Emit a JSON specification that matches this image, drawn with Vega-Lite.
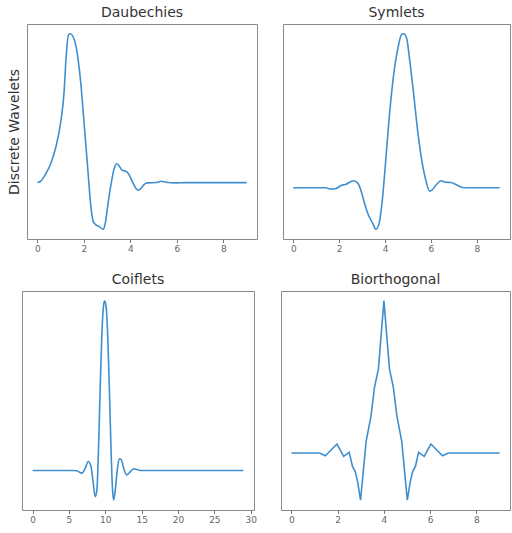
{
  "$schema": "https://vega.github.io/schema/vega-lite/v6.json",
  "padding": {"left": 7, "top": 5, "right": 0, "bottom": 0},
  "background": "white",
  "datasets": {
    "daub": [
      {"x": 0, "y": 0}, {"x": 0.14, "y": 0.013}, {"x": 0.36, "y": 0.084}, {"x": 0.57, "y": 0.178},
      {"x": 0.79, "y": 0.334}, {"x": 1.01, "y": 0.584}, {"x": 1.15, "y": 0.866}, {"x": 1.22, "y": 1.141},
      {"x": 1.34, "y": 1.397}, {"x": 1.41, "y": 1.406}, {"x": 1.58, "y": 1.353}, {"x": 1.72, "y": 1.209},
      {"x": 1.87, "y": 0.928}, {"x": 2.01, "y": 0.553}, {"x": 2.16, "y": 0.147}, {"x": 2.30, "y": -0.228},
      {"x": 2.40, "y": -0.369}, {"x": 2.52, "y": -0.4}, {"x": 2.66, "y": -0.416}, {"x": 2.83, "y": -0.441},
      {"x": 2.92, "y": -0.384}, {"x": 3.02, "y": -0.228}, {"x": 3.16, "y": -0.025}, {"x": 3.30, "y": 0.131},
      {"x": 3.41, "y": 0.178}, {"x": 3.52, "y": 0.156}, {"x": 3.64, "y": 0.116}, {"x": 3.78, "y": 0.109},
      {"x": 3.92, "y": 0.084}, {"x": 4.09, "y": 0.006}, {"x": 4.24, "y": -0.056}, {"x": 4.35, "y": -0.072},
      {"x": 4.45, "y": -0.056}, {"x": 4.60, "y": -0.016}, {"x": 4.74, "y": -0.003}, {"x": 5.10, "y": 0},
      {"x": 5.34, "y": 0.013}, {"x": 5.53, "y": 0.003}, {"x": 5.96, "y": -0.003}, {"x": 6.39, "y": 0},
      {"x": 9, "y": 0}
    ],
    "sym": [
      {"x": 0, "y": 0}, {"x": 1.41, "y": 0}, {"x": 1.65, "y": -0.0125}, {"x": 1.84, "y": -0.009},
      {"x": 2.09, "y": 0.022}, {"x": 2.27, "y": 0.031}, {"x": 2.63, "y": 0.066}, {"x": 2.81, "y": 0.044},
      {"x": 2.95, "y": -0.025}, {"x": 3.11, "y": -0.15}, {"x": 3.28, "y": -0.259}, {"x": 3.47, "y": -0.338},
      {"x": 3.60, "y": -0.391}, {"x": 3.74, "y": -0.338}, {"x": 3.88, "y": -0.119}, {"x": 4.03, "y": 0.256},
      {"x": 4.17, "y": 0.631}, {"x": 4.36, "y": 1.038}, {"x": 4.55, "y": 1.303}, {"x": 4.72, "y": 1.444},
      {"x": 4.82, "y": 1.453}, {"x": 4.94, "y": 1.413}, {"x": 5.08, "y": 1.194}, {"x": 5.25, "y": 0.881},
      {"x": 5.44, "y": 0.506}, {"x": 5.63, "y": 0.225}, {"x": 5.80, "y": 0.053}, {"x": 5.94, "y": -0.031},
      {"x": 6.06, "y": -0.019}, {"x": 6.23, "y": 0.028}, {"x": 6.45, "y": 0.066}, {"x": 6.63, "y": 0.053},
      {"x": 6.88, "y": 0.05}, {"x": 7.09, "y": 0.031}, {"x": 7.38, "y": 0.003}, {"x": 7.67, "y": 0},
      {"x": 9, "y": 0}
    ],
    "coif": [
      {"x": 0, "y": 0}, {"x": 5.5, "y": 0}, {"x": 6.06, "y": -0.003}, {"x": 6.8, "y": -0.025},
      {"x": 7.25, "y": 0.022}, {"x": 7.66, "y": 0.084}, {"x": 8.03, "y": 0.038}, {"x": 8.35, "y": -0.119},
      {"x": 8.62, "y": -0.244}, {"x": 8.85, "y": -0.181}, {"x": 9.08, "y": 0.225}, {"x": 9.31, "y": 0.788},
      {"x": 9.54, "y": 1.288}, {"x": 9.77, "y": 1.538}, {"x": 9.91, "y": 1.578}, {"x": 10.09, "y": 1.538},
      {"x": 10.32, "y": 1.288}, {"x": 10.55, "y": 0.788}, {"x": 10.78, "y": 0.225}, {"x": 11.0, "y": -0.181},
      {"x": 11.15, "y": -0.275}, {"x": 11.38, "y": -0.181}, {"x": 11.65, "y": 0.006}, {"x": 11.93, "y": 0.109},
      {"x": 12.2, "y": 0.1}, {"x": 12.52, "y": 0.022}, {"x": 12.94, "y": -0.041}, {"x": 13.39, "y": -0.016},
      {"x": 13.9, "y": 0.016}, {"x": 14.45, "y": 0.006}, {"x": 15.05, "y": 0}, {"x": 29, "y": 0}
    ],
    "bior": [
      {"x": 0, "y": 0}, {"x": 1.21, "y": 0}, {"x": 1.47, "y": -0.025}, {"x": 1.97, "y": 0.084},
      {"x": 2.26, "y": -0.031}, {"x": 2.5, "y": 0.006}, {"x": 2.64, "y": -0.125}, {"x": 2.76, "y": -0.172},
      {"x": 2.86, "y": -0.266}, {"x": 2.99, "y": -0.4375}, {"x": 3.23, "y": 0.109}, {"x": 3.44, "y": 0.344},
      {"x": 3.59, "y": 0.609}, {"x": 3.76, "y": 0.781}, {"x": 4.0, "y": 1.416}, {"x": 4.24, "y": 0.781},
      {"x": 4.41, "y": 0.609}, {"x": 4.56, "y": 0.344}, {"x": 4.77, "y": 0.109}, {"x": 5.01, "y": -0.4375},
      {"x": 5.14, "y": -0.266}, {"x": 5.24, "y": -0.172}, {"x": 5.36, "y": -0.125}, {"x": 5.5, "y": 0.006},
      {"x": 5.74, "y": -0.031}, {"x": 6.03, "y": 0.084}, {"x": 6.53, "y": -0.025}, {"x": 6.79, "y": 0},
      {"x": 9, "y": 0}
    ]
  },
  "config": {
    "view": {"stroke": "#8a8a8a", "strokeWidth": 1},
    "axis": {
      "labelFont": "DejaVu Sans", "labelFontSize": 9, "labelColor": "#666",
      "tickColor": "#777", "tickSize": 3.5, "domain": false, "grid": false, "labelPadding": 2
    },
    "title": {"font": "DejaVu Sans", "fontSize": 14, "fontWeight": "normal", "color": "#333", "offset": 4},
    "line": {"color": "#3f8fcf", "strokeWidth": 1.6}
  },
  "spacing": 18,
  "vconcat": [
    {
      "spacing": 0,
      "hconcat": [
        {
          "width": 1, "height": 215,
          "view": {"stroke": null},
          "data": {"name": "daub"},
          "mark": {"type": "point", "opacity": 0},
          "encoding": {
            "y": {"field": "y", "type": "quantitative", "scale": {"domain": [-0.533, 1.498], "nice": false, "zero": false}, "axis": {"title": "Discrete Wavelets", "labels": false, "ticks": false, "titleFont": "DejaVu Sans", "titleFontSize": 14, "titleFontWeight": "normal", "titleColor": "#333", "titlePadding": 1}}
          }
        },
        {
          "spacing": 24,
          "hconcat": [
            {
              "title": "Daubechies",
              "width": 230, "height": 215,
              "data": {"name": "daub"},
              "mark": {"type": "line", "interpolate": "monotone"},
              "encoding": {
                "x": {"field": "x", "type": "quantitative", "scale": {"domain": [-0.45, 9.45], "nice": false, "zero": false}, "axis": {"values": [0, 2, 4, 6, 8], "title": null}},
                "y": {"field": "y", "type": "quantitative", "scale": {"domain": [-0.533, 1.498], "nice": false, "zero": false}, "axis": null}
              }
            },
            {
              "title": "Symlets",
              "width": 227, "height": 215,
              "data": {"name": "sym"},
              "mark": {"type": "line", "interpolate": "monotone"},
              "encoding": {
                "x": {"field": "x", "type": "quantitative", "scale": {"domain": [-0.45, 9.45], "nice": false, "zero": false}, "axis": {"values": [0, 2, 4, 6, 8], "title": null}},
                "y": {"field": "y", "type": "quantitative", "scale": {"domain": [-0.483, 1.545], "nice": false, "zero": false}, "axis": null}
              }
            }
          ]
        }
      ]
    },
    {
      "spacing": 23,
      "hconcat": [
        {
          "title": "Coiflets",
          "width": 232, "height": 219,
          "data": {"name": "coif"},
          "mark": {"type": "line", "interpolate": "monotone"},
          "encoding": {
            "x": {"field": "x", "type": "quantitative", "scale": {"domain": [-1.45, 30.45], "nice": false, "zero": false}, "axis": {"values": [0, 5, 10, 15, 20, 25, 30], "title": null}},
            "y": {"field": "y", "type": "quantitative", "scale": {"domain": [-0.368, 1.671], "nice": false, "zero": false}, "axis": null}
          }
        },
        {
          "title": "Biorthogonal",
          "width": 229, "height": 219,
          "data": {"name": "bior"},
          "mark": {"type": "line"},
          "encoding": {
            "x": {"field": "x", "type": "quantitative", "scale": {"domain": [-0.45, 9.45], "nice": false, "zero": false}, "axis": {"values": [0, 2, 4, 6, 8], "title": null}},
            "y": {"field": "y", "type": "quantitative", "scale": {"domain": [-0.530, 1.508], "nice": false, "zero": false}, "axis": null}
          }
        }
      ]
    }
  ]
}
